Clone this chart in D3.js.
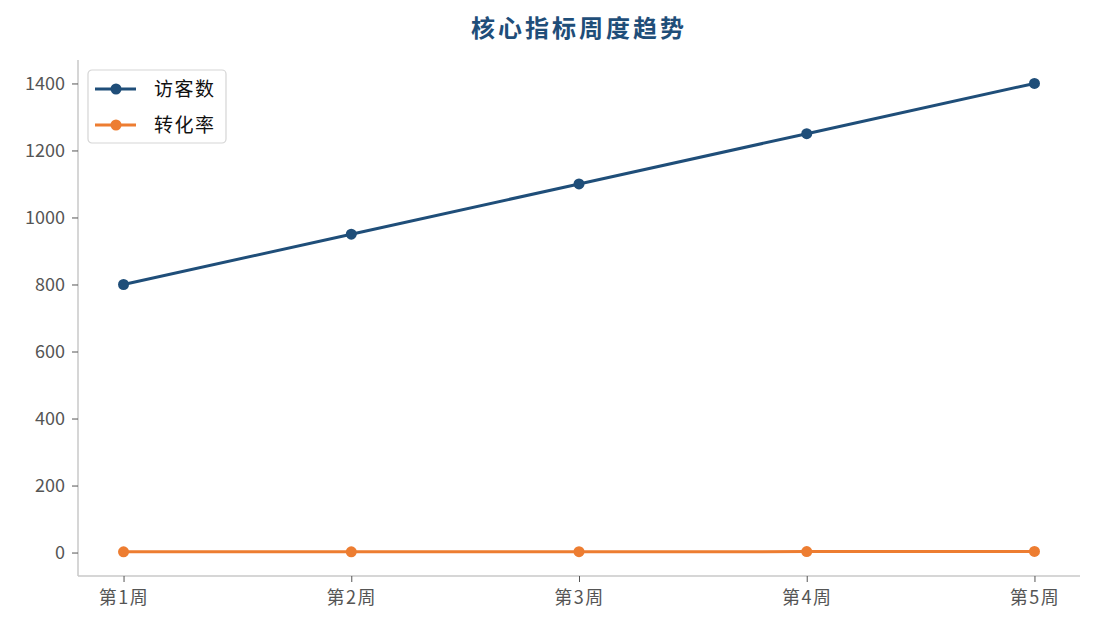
<!DOCTYPE html>
<html>
<head>
<meta charset="utf-8">
<script src="https://cdn.jsdelivr.net/npm/d3@7"></script>
<style>
  body { margin: 0; background: #fff; }
  svg { font-family: "Noto Sans CJK SC", "Noto Sans", sans-serif; }
</style>
</head>
<body>
<svg id="chart" width="1095" height="629"></svg>
<script>
// chart data
var weeks = ["第1周", "第2周", "第3周", "第4周", "第5周"];
var visitors = [800, 950, 1100, 1250, 1400];
var convRate = [2.1, 2.3, 2.5, 2.8, 3.2];
var yTicks = [0, 200, 400, 600, 800, 1000, 1200, 1400];
var seriesNames = ["访客数", "转化率"];
var seriesColors = ["#1f4e79", "#ed7d31"];

var svg = d3.select("#chart");
var margin = {left: 78, right: 15, top: 60, bottom: 53};
var width = 1095, height = 629;

// x: point scale with matplotlib-like 5% padding
var x = d3.scalePoint()
    .domain(weeks)
    .range([margin.left, width - margin.right])
    .padding(0.2);

var y = d3.scaleLinear()
    .domain([-70, 1470])
    .range([height - margin.bottom, margin.top]);

// title
svg.append("text")
    .attr("x", (margin.left + width - margin.right) / 2)
    .attr("y", 37)
    .attr("text-anchor", "middle")
    .attr("font-size", 24)
    .attr("letter-spacing", 3)
    .attr("font-weight", "bold")
    .attr("fill", "#1f4e79")
    .text("核心指标周度趋势");

// axes
var xAxis = svg.append("g")
    .attr("transform", `translate(0,${height - margin.bottom})`)
    .call(d3.axisBottom(x).tickSizeOuter(0).tickSize(6).tickPadding(5));
var yAxis = svg.append("g")
    .attr("transform", `translate(${margin.left},0)`)
    .call(d3.axisLeft(y).tickValues(yTicks).tickFormat(d3.format("d")).tickSizeOuter(0).tickSize(6).tickPadding(7));

[xAxis, yAxis].forEach(function(a) {
    a.select(".domain").attr("stroke", "#c8c8c8").attr("stroke-width", 1.5);
    a.selectAll(".tick line").attr("stroke", "#555").attr("stroke-width", 1);
    a.selectAll(".tick text")
        .attr("fill", "#555")
        .attr("font-size", 18)
        .attr("font-family", "\"Noto Sans CJK SC\", sans-serif");
});
xAxis.select(".domain").attr("d", `M${margin.left},0H${width - margin.right}`);
yAxis.select(".domain").attr("d", `M0,${height - margin.bottom}V${margin.top}`);
xAxis.selectAll(".tick text").attr("dy", "0.95em").attr("letter-spacing", 1.5);

// lines
var allSeries = [visitors, convRate];
allSeries.forEach(function(vals, i) {
    var line = d3.line()
        .x((d, j) => x(weeks[j]))
        .y(d => y(d));
    svg.append("path")
        .datum(vals)
        .attr("fill", "none")
        .attr("stroke", seriesColors[i])
        .attr("stroke-width", 3)
        .attr("d", line);
    svg.selectAll(".pt" + i)
        .data(vals)
        .enter().append("circle")
        .attr("class", "pt" + i)
        .attr("cx", (d, j) => x(weeks[j]))
        .attr("cy", d => y(d))
        .attr("r", 5.5)
        .attr("fill", seriesColors[i]);
});

// legend
var lg = svg.append("g").attr("transform", "translate(88,70)");
lg.append("rect")
    .attr("width", 138)
    .attr("height", 73)
    .attr("rx", 4)
    .attr("fill", "#fff")
    .attr("stroke", "#d5d5d5")
    .attr("stroke-width", 1.2);
seriesNames.forEach(function(name, i) {
    var ly = 19 + i * 36;
    lg.append("line")
        .attr("x1", 7).attr("x2", 48)
        .attr("y1", ly).attr("y2", ly)
        .attr("stroke", seriesColors[i])
        .attr("stroke-width", 3);
    lg.append("circle")
        .attr("cx", 28).attr("cy", ly).attr("r", 5.5)
        .attr("fill", seriesColors[i]);
    lg.append("text")
        .attr("x", 66).attr("y", ly)
        .attr("dy", "0.36em")
        .attr("font-size", 19)
        .attr("letter-spacing", 1.5)
        .attr("fill", "#111")
        .text(name);
});
</script>
</body>
</html>
